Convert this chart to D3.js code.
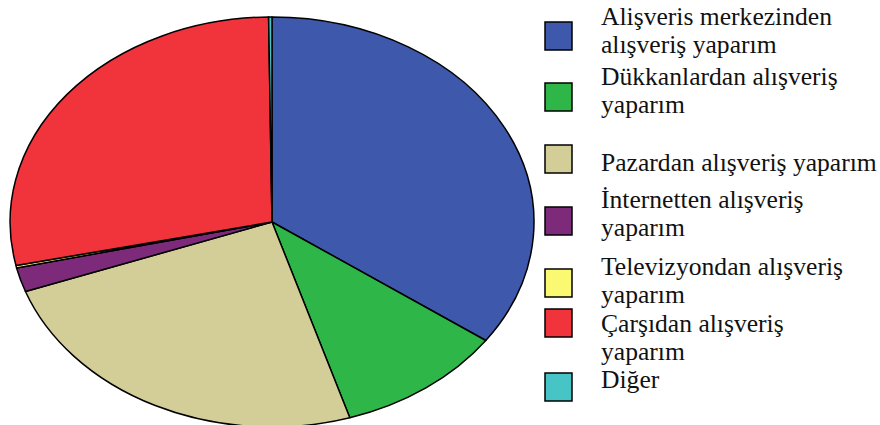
<!DOCTYPE html>
<html>
<head>
<meta charset="utf-8">
<script src="https://cdn.jsdelivr.net/npm/d3@7"></script>
<style>
  body { margin: 0; background: #fff; }
  svg { display: block; }
</style>
</head>
<body>
<div id="chart"></div>
<script>
// shopping places (percent of answers)
const categories = [
    ["Alişveris merkezinden", "alışveriş yaparım"],
    ["Dükkanlardan alışveriş", "yaparım"],
    ["Pazardan alışveriş yaparım"],
    ["İnternetten alışveriş", "yaparım"],
    ["Televizyondan alışveriş", "yaparım"],
    ["Çarşıdan alışveriş", "yaparım"],
    ["Diğer"]
];
const values = [34.8, 10.4, 24.3, 1.9, 0.2, 28.2, 0.2];
const colors = ["#3e58ab", "#2fb648", "#d3ce98", "#7d2a7b", "#fbf871", "#f1333b", "#46c4c6"];

// legend row layout (top of swatch, first baseline)
const legendRows = [
    { top: 22, base: 25 },
    { top: 83, base: 85 },
    { top: 145, base: 171 },
    { top: 207, base: 208 },
    { top: 269, base: 275 },
    { top: 309, base: 332 },
    { top: 373, base: 388 }
];

const width = 880, height = 425;
const cx = 272, cy = 222, rx = 262, ry = 205;

const svg = d3.select("#chart")
    .append("svg")
    .attr("width", width)
    .attr("height", height);

const data = values.map((v, i) => ({ label: categories[i], value: v, color: colors[i] }));

const pie = d3.pie().sort(null).value(d => d.value);
const arc = d3.arc().innerRadius(0).outerRadius(1);

// unit pie stretched into an ellipse
const g = svg.append("g")
    .attr("transform", `translate(${cx},${cy}) scale(${rx},${ry})`);

g.selectAll("path")
    .data(pie(data))
    .enter().append("path")
    .attr("d", arc)
    .attr("fill", d => d.data.color)
    .attr("stroke", "#000")
    .attr("stroke-width", 1.5)
    .attr("stroke-linejoin", "round")
    .attr("vector-effect", "non-scaling-stroke");

// legend
const legend = svg.append("g");

const items = legend.selectAll("g")
    .data(data)
    .enter().append("g");

items.append("rect")
    .attr("x", 545)
    .attr("y", (d, i) => legendRows[i].top)
    .attr("width", 27)
    .attr("height", 28)
    .attr("fill", d => d.color)
    .attr("stroke", "#000")
    .attr("stroke-width", 1.5);

items.append("text")
    .attr("x", 601)
    .attr("y", (d, i) => legendRows[i].base)
    .attr("font-family", "Liberation Serif")
    .attr("font-size", 25.6)
    .attr("fill", "#111")
    .selectAll("tspan")
    .data(d => d.label)
    .enter().append("tspan")
    .attr("x", 601)
    .attr("dy", (d, i) => i === 0 ? 0 : 28)
    .text(d => d);
</script>
</body>
</html>
